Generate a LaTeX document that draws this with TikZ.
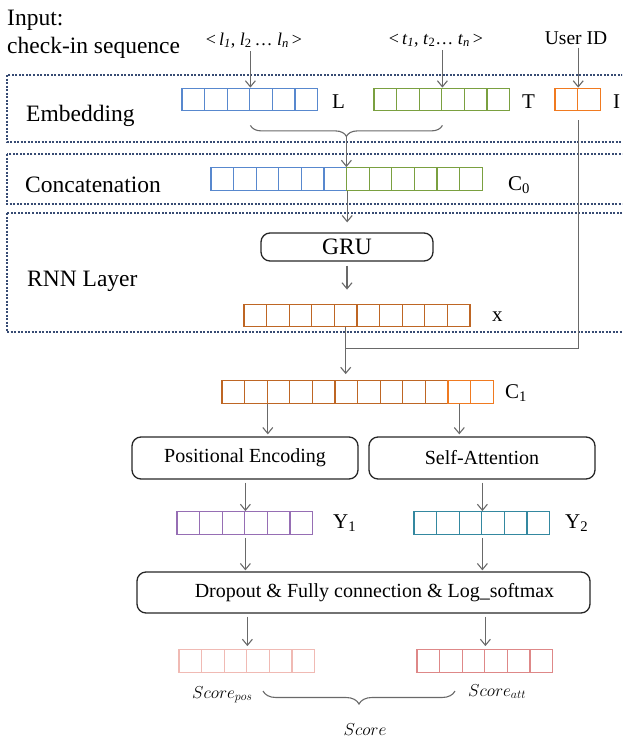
\documentclass[tikz,border=0pt]{standalone}
\usepackage{fontspec}
\setmainfont{Liberation Serif}
\usetikzlibrary{arrows.meta,decorations.pathreplacing,calc}
\definecolor{cellL}{RGB}{88,136,206}
\definecolor{cellT}{RGB}{122,160,64}
\definecolor{cellI}{RGB}{240,122,32}
\definecolor{cellX}{RGB}{190,102,36}
\definecolor{cellYa}{RGB}{150,110,180}
\definecolor{cellYb}{RGB}{52,136,160}
\definecolor{cellSa}{RGB}{240,186,180}
\definecolor{cellSb}{RGB}{222,136,136}
\definecolor{framecol}{RGB}{55,75,115}
\definecolor{arrgray}{RGB}{105,105,105}
\begin{document}
\begin{tikzpicture}[x=1pt,y=-1pt,
  cell/.style={draw, line width=1.2pt, minimum width=22.6pt, minimum height=22.6pt, inner sep=0pt},
  blk/.style={draw=black!85, line width=1.3pt, rounded corners=9pt, inner sep=0pt, font=\fontsize{20}{24}\selectfont},
  arr/.style={draw=arrgray, line width=1.1pt, -{Straight Barb[length=6pt,width=10pt]}},
  ln/.style={draw=arrgray, line width=1.1pt},
  brc/.style={draw=arrgray, line width=1.1pt, decorate, decoration={brace, amplitude=#1, mirror}},
  frame/.style={draw=framecol, line width=1.4pt, dash pattern=on 2pt off 1.5pt},
  big/.style={inner sep=0pt, font=\fontsize{23.5}{28}\selectfont},
  lab/.style={inner sep=0pt, font=\fontsize{21}{25}\selectfont},
  seq/.style={font=\fontsize{18}{22}\selectfont},
  sc/.style={inner sep=0pt, font=\fontsize{18}{22}\selectfont},
]
\clip (0,0) rectangle (622,739);

% layers
\draw[frame] (7,75) rectangle (640,142);
\draw[frame] (7,154) rectangle (640,204);
\draw[frame] (7,213) rectangle (640,332);

\node[big, anchor=base west] (inp) at (7,25) {Input:};
\node[big, anchor=base west] (chk) at (7,53) {check-in sequence};
\node[big, anchor=base west] (emb) at (26,121) {Embedding};
\node[big, anchor=base west] (cat) at (25,192) {Concatenation};
\node[big, anchor=base west] (rnn) at (27,286) {RNN Layer};

\node[seq, anchor=base] (lseq) at (254,45) {<\,\textit{l}\textsubscript{\textit{1}}, \textit{l}\textsubscript{2}\,\ldots\ \textit{l}\textsubscript{\textit{n}}\,>};
\node[seq, anchor=base] (tseq) at (436,44) {<\,\textit{t}\textsubscript{\textit{1}}, \textit{t}\textsubscript{2}\ldots\ \textit{t}\textsubscript{\textit{n}}\,>};
\node[seq, anchor=base, font=\fontsize{19.5}{23}\selectfont] (uid) at (576,44) {User ID};

% embedding rows
\foreach \i in {1,...,6} {
  \node[cell, draw=cellL] (L\i) at (170.7+22.6*\i,99.5) {};
  \node[cell, draw=cellT] (T\i) at (362.7+22.6*\i,99.5) {};
}
\foreach \i in {1,2} \node[cell, draw=cellI] (I\i) at (543.7+22.6*\i,99.5) {};
\node[lab, anchor=base west] (Llab) at (332,108) {L};
\node[lab, anchor=base west] (Tlab) at (522,108) {T};
\node[lab, anchor=base west] (Ilab) at (613,108) {I};

\draw[arr] (L3.north east |- lseq.south) -- (L3.north east);
\draw[arr] (T3.north east |- tseq.south) -- (T3.north east);
\draw[arr] (I1.north east |- uid.south) -- (I1.north east);

% concatenation
\foreach \i in {1,...,6} \node[cell, draw=cellL] (C0-\i) at (199.7+22.6*\i,179) {};
\foreach \i in {7,...,12} \node[cell, draw=cellT] (C0-\i) at (199.7+22.6*\i,179) {};
\node[lab, anchor=base west] (C0lab) at (508,190) {C\textsubscript{0}};

\draw[brc=11pt] ([yshift=-14pt]L3.south east) -- ([yshift=-14pt]T3.south east);
\coordinate (brtip) at ($([yshift=-25pt]L3.south east)!0.5!([yshift=-25pt]T3.south east)$);
\draw[arr] (brtip) -- (brtip |- C0-6.north);

% rnn
\node[blk, font=\fontsize{23.5}{28}\selectfont, minimum width=172pt, minimum height=28pt] (gru) at (347,247) {GRU};
\foreach \i in {1,...,10} \node[cell, draw=cellX] (x\i) at (232.7+22.6*\i,315.5) {};
\node[lab, anchor=base west] (xlab) at (492,321) {x};

\draw[arr, shorten >=10pt] (C0-6.south east) -- (C0-6.south east |- gru.north);
\draw[arr, shorten <=4pt, shorten >=14pt] (gru.south) -- (gru.south |- x5.north);

% user id joins
\foreach \i in {1,...,10} \node[cell, draw=cellX] (C1-\i) at (210.7+22.6*\i,392) {};
\foreach \i in {11,12} \node[cell, draw=cellI] (C1-\i) at (210.7+22.6*\i,392) {};
\node[lab, anchor=base west] (C1lab) at (505,398) {C\textsubscript{1}};

\coordinate (join) at ($(x5.south)+(0,21)$);
\draw[ln] ([yshift=-9pt]I1.south east) |- (join);
\draw[arr, shorten >=6pt] (x5.south) -- (x5.south |- C1-6.north);

% two branches
\node[blk, minimum width=226pt, minimum height=42pt] (pe) at (245,458) {Positional Encoding};
\node[blk, minimum width=226pt, minimum height=42pt] (sa) at (482,458) {Self-Attention};
\draw[arr, shorten >=2pt] (C1-2.south east) -- (C1-2.south east |- pe.north);
\draw[arr, shorten >=2pt] (C1-11.south) -- (C1-11.south |- sa.north);

\foreach \i in {1,...,6} {
  \node[cell, draw=cellYa] (Y1-\i) at (165.7+22.6*\i,523) {};
  \node[cell, draw=cellYb] (Y2-\i) at (402.7+22.6*\i,523) {};
}
\node[lab, anchor=base west] (Y1lab) at (333,528) {Y\textsubscript{1}};
\node[lab, anchor=base west] (Y2lab) at (565,528) {Y\textsubscript{2}};
\draw[arr, shorten <=3pt] (pe.south -| Y1-3.north east) -- (Y1-3.north east);
\draw[arr, shorten <=3pt] (sa.south -| Y2-3.north east) -- (Y2-3.north east);

\node[blk, minimum width=453pt, minimum height=41pt] (drop) at (363.5,592.5) {\hspace*{22pt}Dropout \& Fully connection \& Log\_softmax};
\draw[arr, shorten <=3pt, shorten >=1pt] (Y1-3.south east) -- (Y1-3.south east |- drop.north);
\draw[arr, shorten <=3pt, shorten >=1pt] (Y2-3.south east) -- (Y2-3.south east |- drop.north);

% scores
\foreach \i in {1,...,6} {
  \node[cell, draw=cellSa] (S1-\i) at (167.7+22.6*\i,661) {};
  \node[cell, draw=cellSb] (S2-\i) at (405.7+22.6*\i,661) {};
}
\draw[arr, shorten <=3pt, shorten >=3pt] (drop.south -| S1-3.north east) -- (S1-3.north east);
\draw[arr, shorten <=3pt, shorten >=3pt] (drop.south -| S2-3.north east) -- (S2-3.north east);

\node[sc, anchor=base west] (spos) at (192,698) {$Score_{pos}$};
\node[sc, anchor=base west] (satt) at (468,696) {$Score_{att}$};
\node[sc, anchor=base] (score) at (365,735) {$Score$};
\coordinate (bl) at (263,691);
\coordinate (br) at (455,691);
\draw[brc=13pt] (bl) -- (br);

\end{tikzpicture}
\end{document}
